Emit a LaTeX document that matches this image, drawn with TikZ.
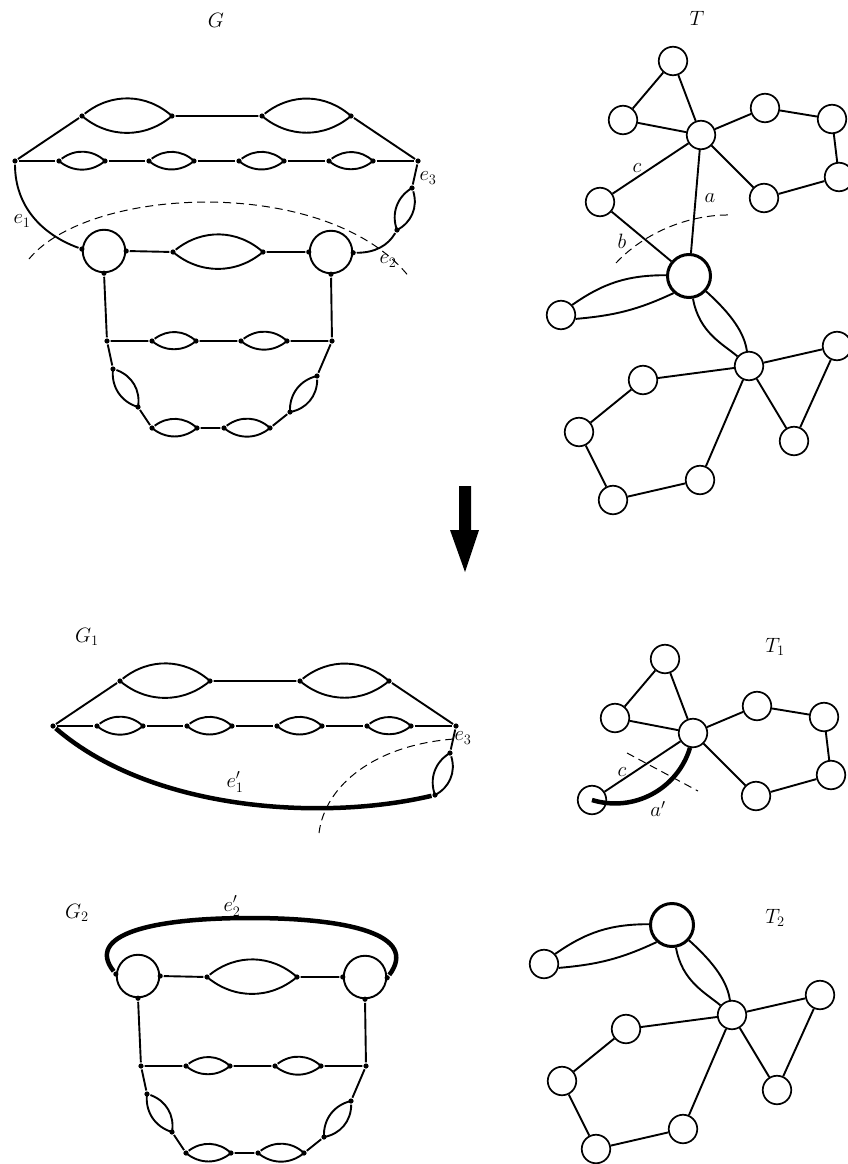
\documentclass[tikz,border=0pt]{standalone}
\newcommand\glens[2]{\draw (#1) to[bend left=40] (#2) to[bend left=40] (#1);}
\newcommand\Gtop{%
  \node[gdot] (A) at (15,161) {};
  \node[gdot] (Z) at (418,161) {};
  \foreach \n/\x in {P1/82,P2/172,P3/262,P4/351} \node[gdot] (\n) at (\x,116) {};
  \foreach \n/\x in {q1/59,q2/105,q3/149,q4/194,q5/239,q6/284,q7/329,q8/373} \node[gdot] (\n) at (\x,161) {};
  \node[gdot] (s1) at (397,230) {};
  \node[gdot] (s2) at (412,188) {};
  \draw (A) -- (P1) (P2) -- (P3) (P4) -- (Z);
  \glens{P1}{P2}\glens{P3}{P4}
  \draw (A) -- (q1) (q2) -- (q3) (q4) -- (q5) (q6) -- (q7) (q8) -- (Z);
  \glens{q1}{q2}\glens{q3}{q4}\glens{q5}{q6}\glens{q7}{q8}
  \draw (Z) -- (s2);
  \glens{s2}{s1}
}
\newcommand\Gbot{%
  \node[gcirc] (L) at (104,251) {};
  \node[gcirc] (R) at (331,252) {};
  \node[gdot] (Lw) at (L.175) {};
  \node[gdot] (Le) at (L.0) {};
  \node[gdot] (Ls) at (L.270) {};
  \node[gdot] (Rw) at (R.180) {};
  \node[gdot] (Re) at (R.-2) {};
  \node[gdot] (Rs) at (R.270) {};
  \node[gdot] (m1) at (173,252) {};
  \node[gdot] (m2) at (263,252) {};
  \draw (Le) -- (m1) (m2) -- (Rw);
  \glens{m1}{m2}
  \foreach \n/\x in {b1/107,c1/152,c2/196,c3/241,c4/287,b4/332} \node[gdot] (\n) at (\x,341) {};
  \draw (Ls) -- (b1) (Rs) -- (b4) (b1) -- (c1) (c2) -- (c3) (c4) -- (b4);
  \glens{c1}{c2}\glens{c3}{c4}
  \node[gdot] (d1) at (113,369) {};
  \node[gdot] (d2) at (138,407) {};
  \node[gdot] (d3) at (317,376) {};
  \node[gdot] (d4) at (290,412) {};
  \foreach \n/\x in {f1/152,f2/197,f3/224,f4/270} \node[gdot] (\n) at (\x,428) {};
  \draw (b1) -- (d1) (d2) -- (f1) (f2) -- (f3) (b4) -- (d3) (d4) -- (f4);
  \glens{d1}{d2}\glens{f1}{f2}\glens{f3}{f4}\glens{d3}{d4}
}
\newcommand\Ttop{%
  \node[tv] (t1) at (673,61) {};
  \node[tv] (t2) at (623,120) {};
  \node[tv] (t3) at (701,135) {};
  \node[tv] (t4) at (765,108) {};
  \node[tv] (t5) at (832,119) {};
  \node[tv] (t6) at (839,177) {};
  \node[tv] (t7) at (764,198) {};
  \node[tv] (t8) at (600,202) {};
  \draw (t1) -- (t2) -- (t3) -- (t1);
  \draw (t3) -- (t4) -- (t5) -- (t6) -- (t7) -- (t3);
  \draw (t3) -- (t8);
}
\newcommand\Tbot{%
  \node[tbig] (B) at (689,276) {};
  \node[tv] (t9) at (561,315) {};
  \node[tv] (h2) at (749,366) {};
  \node[tv] (u1) at (837,346) {};
  \node[tv] (u2) at (794,441) {};
  \node[tv] (u3) at (643,380) {};
  \node[tv] (u4) at (579,432) {};
  \node[tv] (u5) at (613,500) {};
  \node[tv] (u6) at (700,480) {};
  \draw (B.178) to[out=180,in=35] (t9.42);
  \draw (B.228) to[out=205,in=5] (t9.-15);
  \draw (B) to[out=-80,in=140] (h2);
  \draw (B) to[out=-42,in=98] (h2);
  \draw (h2) -- (u1) -- (u2) -- (h2);
  \draw (h2) -- (u3) -- (u4) -- (u5) -- (u6) -- (h2);
}
\begin{document}
\begin{tikzpicture}[x=1pt,y=-1pt,line width=1.9pt,
  gdot/.style={circle,fill=black,inner sep=0pt,minimum size=5.2pt},
  gcirc/.style={circle,draw,line width=1.9pt,minimum size=42.5pt,inner sep=0pt},
  tv/.style={circle,draw,line width=1.7pt,minimum size=28.5pt,inner sep=0pt},
  tbig/.style={circle,draw,line width=3pt,minimum size=43pt,inner sep=0pt},
  lbl/.style={font=\fontsize{20.74}{24}\selectfont,inner sep=1pt},
  cutline/.style={line width=1pt,dash pattern=on 8pt off 5pt},
  boldedge/.style={line width=4.5pt}]
\fill[white] (0,0) rectangle (848,1164);
\useasboundingbox (0,0) rectangle (848,1164);

% ---------- G ----------
\begin{scope}[name prefix=g-]
  \Gtop
  \Gbot
  \draw (A) to[out=-90,in=160] (Lw);
  \draw (Re) to[out=0,in=-120] (s1);
\end{scope}
\node[lbl] (labG) at (216,20) {$G$};
\node[lbl] (labe1) at (22,221) {$e_1$};
\node[lbl] (labe2) at (388,261) {$e_2$};
\node[lbl] (labe3) at (428,178) {$e_3$};
\draw[cutline] (29,259) .. controls (90,185) and (330,175) .. (410,278);

% ---------- T ----------
\begin{scope}[name prefix=t-]
  \Ttop
  \Tbot
  \draw (t3) -- (B);
  \draw (t8) -- (B);
\end{scope}
\node[lbl] (labT) at (697,18) {$T$};
\node[lbl] (labc) at (637,168) {$c$};
\node[lbl] (laba) at (710,198) {$a$};
\node[lbl] (labb) at (622,241) {$b$};
\draw[cutline] (616,263) .. controls (645,232) and (690,214) .. (732,215);

% ---------- arrow ----------
\fill (459,486) -- (471,486) -- (471,530) -- (479,530) -- (465,572) -- (450,530) -- (459,530) -- cycle;

% ---------- G1 ----------
\begin{scope}[shift={(38,565)},name prefix=ga-]
  \Gtop
  \draw[boldedge] (A) .. controls +(97,84) and +(-115,27) .. (s1);
\end{scope}
\node[lbl] (labG1) at (87,637) {$G_1$};
\node[lbl] (labe1p) at (235,782) {$e'_1$};
\node[lbl] (labe3b) at (463,738) {$e_3$};
\draw[cutline] (319,833) .. controls (325,785) and (375,745) .. (454,739);

% ---------- T1 ----------
\begin{scope}[shift={(-8,598)},name prefix=ta-]
  \Ttop
  \draw[boldedge] (t3) to[bend left=45] (t8);
\end{scope}
\node[lbl] (labT1) at (775,647) {$T_1$};
\node[lbl] (labc1) at (622,772) {$c$};
\node[lbl] (labap) at (658,809) {$a'$};
\draw[cutline] (627,753) -- (698,791);

% ---------- G2 ----------
\begin{scope}[shift={(34,725)},name prefix=gb-]
  \Gbot
  \draw[boldedge] (Lw) .. controls (51,210) and (116,193) .. (216,193) .. controls (316,193) and (385,210) .. (Re);
\end{scope}
\node[lbl] (labG2) at (77,913) {$G_2$};
\node[lbl] (labe2p) at (232,906) {$e'_2$};

% ---------- T2 ----------
\begin{scope}[shift={(-17,649)},name prefix=tb-]
  \Tbot
\end{scope}
\node[lbl] (labT2) at (775,918) {$T_2$};
\end{tikzpicture}
\end{document}
